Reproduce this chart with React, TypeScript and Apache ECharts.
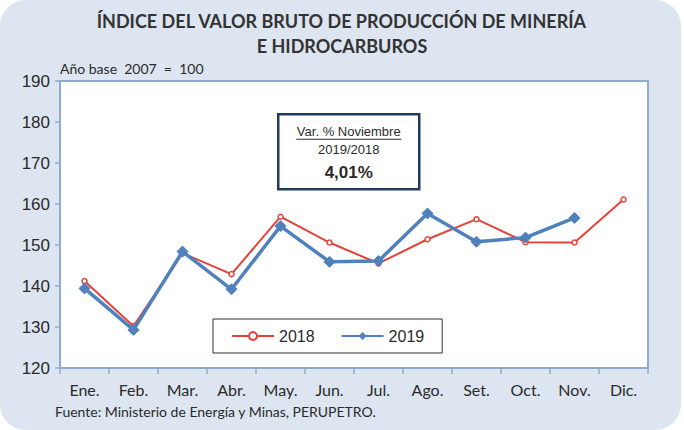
import React, { useEffect, useRef } from "react";
import * as echarts from "echarts";

const months = ["Ene.", "Feb.", "Mar.", "Abr.", "May.", "Jun.", "Jul.", "Ago.", "Set.", "Oct.", "Nov.", "Dic."];
const index2018 = [141.2, 130.2, 148.0, 142.9, 156.9, 150.6, 145.5, 151.4, 156.3, 150.7, 150.6, 161.1];
const index2019 = [139.4, 129.3, 148.4, 139.2, 154.6, 145.9, 146.1, 157.7, 150.8, 151.8, 156.6, null];
const yMin = 120;
const yMax = 190;
const yStep = 10;

const titleLines = ["ÍNDICE DEL VALOR BRUTO DE PRODUCCIÓN DE MINERÍA", "E HIDROCARBUROS"];
const baseNote = "Año base  2007  =  100";
const sourceNote = "Fuente: Ministerio de Energía y Minas, PERUPETRO.";
const boxLines = ["Var. % Noviembre", "2019/2018", "4,01%"];

const RED = "#e5423a";
const BLUE = "#4f81bd";
const AXIS = "#8eabd0";
const TEXT = "#2b2b2b";

export default function App() {
  const ref = useRef<HTMLDivElement>(null);

  useEffect(() => {
    if (!ref.current) return;
    const chart = echarts.init(ref.current, null, { renderer: "svg" });
    chart.setOption({
      animation: false,
      backgroundColor: "#ffffff",
      graphic: [
        {
          type: "rect",
          z: -10,
          shape: { x: 0, y: 0, width: 681, height: 430, r: 26 },
          style: { fill: "#dce5f0" },
        },
        {
          type: "text",
          left: "center",
          top: 12,
          style: {
            text: titleLines[0],
            font: "bold 18px Lato",
            fill: "#333333",
          },
        },
        {
          type: "text",
          left: "center",
          top: 37,
          style: {
            text: titleLines[1],
            font: "bold 18px Lato",
            fill: "#333333",
          },
        },
        {
          type: "text",
          left: 60,
          top: 61,
          style: { text: baseNote, font: "14px Lato", fill: TEXT },
        },
        {
          type: "text",
          left: 55,
          top: 404,
          style: { text: sourceNote, font: "14px Lato", fill: TEXT },
        },
        {
          type: "group",
          left: 277,
          top: 113,
          z: 20,
          children: [
            {
              type: "rect",
              shape: { x: 0, y: 0, width: 141, height: 75 },
              style: { fill: "#ffffff", stroke: "#1f3a5a", lineWidth: 2.5 },
            },
            {
              type: "text",
              x: 70.5,
              y: 17,
              style: {
                text: boxLines[0],
                font: "13px 'Liberation Sans'",
                fill: TEXT,
                align: "center",
                verticalAlign: "middle",
              },
            },
            {
              type: "line",
              shape: { x1: 18, y1: 25, x2: 123, y2: 25 },
              style: { stroke: TEXT, lineWidth: 1 },
            },
            {
              type: "text",
              x: 70.5,
              y: 35,
              style: {
                text: boxLines[1],
                font: "13px 'Liberation Sans'",
                fill: TEXT,
                align: "center",
                verticalAlign: "middle",
              },
            },
            {
              type: "text",
              x: 70.5,
              y: 58,
              style: {
                text: boxLines[2],
                font: "bold 17px 'Liberation Sans'",
                fill: TEXT,
                align: "center",
                verticalAlign: "middle",
              },
            },
          ],
        },
      ],
      legend: {
        left: 213,
        top: 319,
        orient: "horizontal",
        backgroundColor: "#ffffff",
        borderColor: "#333333",
        borderWidth: 1,
        padding: [9, 18],
        itemGap: 26,
        itemWidth: 42,
        itemHeight: 10,
        textStyle: { fontSize: 16, fontFamily: "Liberation Sans", color: TEXT },
        data: ["2018", "2019"],
        z: 20,
      },
      grid: {
        left: 60,
        right: 36,
        top: 81,
        bottom: 62,
        show: true,
        backgroundColor: "#ffffff",
        borderColor: AXIS,
        borderWidth: 2,
      },
      xAxis: {
        type: "category",
        data: months,
        boundaryGap: true,
        axisLine: { show: true, lineStyle: { color: AXIS, width: 2 } },
        axisTick: { show: true, inside: false, length: 6, lineStyle: { color: AXIS, width: 1.5 } },
        axisLabel: {
          margin: 13,
          fontSize: 16,
          fontFamily: "Lato",
          color: TEXT,
        },
        splitLine: { show: false },
      },
      yAxis: {
        type: "value",
        min: yMin,
        max: yMax,
        interval: yStep,
        axisLine: { show: true, lineStyle: { color: AXIS, width: 2 } },
        axisTick: { show: true, inside: false, length: 5, lineStyle: { color: AXIS, width: 1.5 } },
        axisLabel: {
          margin: 10,
          fontSize: 17,
          fontFamily: "Liberation Sans",
          color: TEXT,
        },
        splitLine: { show: false },
      },
      series: [
        {
          name: "2018",
          type: "line",
          data: index2018,
          symbol: "circle",
          symbolSize: 5,
          lineStyle: { color: RED, width: 2 },
          itemStyle: { color: "#ffffff", borderColor: RED, borderWidth: 1.5 },
          z: 3,
        },
        {
          name: "2019",
          type: "line",
          data: index2019,
          symbol: "diamond",
          symbolSize: 11,
          lineStyle: { color: BLUE, width: 3.5 },
          itemStyle: { color: BLUE, borderColor: BLUE },
          z: 4,
        },
      ],
    });
    return () => chart.dispose();
  }, []);

  return (
    <div
      ref={ref}
      style={{ position: "fixed", left: 0, top: 0, width: 684, height: 430 }}
    />
  );
}
